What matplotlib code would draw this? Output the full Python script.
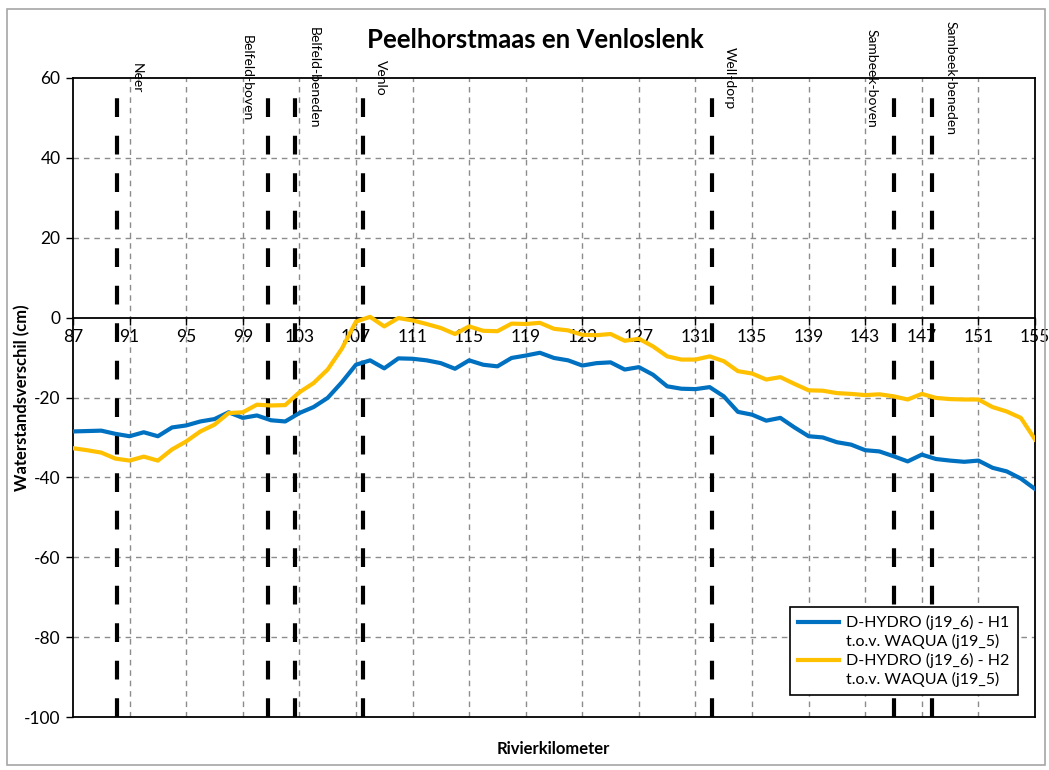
import matplotlib.pyplot as plt
from matplotlib.lines import Line2D
from matplotlib.patches import Rectangle

plt.rcParams["font.family"] = ["Lato", "DejaVu Sans"]
plt.rcParams["axes.unicode_minus"] = False

# rivierkilometer (1 km stappen)
km = list(range(87, 156))

h1_diff = [
    -28.5, -28.4, -28.3, -29.1, -29.7, -28.7, -29.7, -27.5, -27.0, -26.0,
    -25.4, -23.7, -25.1, -24.5, -25.7, -26.0, -23.9, -22.4, -20.1, -16.2,
    -11.8, -10.7, -12.7, -10.2, -10.3, -10.7, -11.4, -12.8, -10.7, -11.8,
    -12.2, -10.1, -9.5, -8.8, -10.1, -10.7, -12.0, -11.4, -11.2, -13.0,
    -12.4, -14.3, -17.2, -17.8, -17.9, -17.4, -19.7, -23.6, -24.3, -25.8,
    -25.1, -27.5, -29.7, -30.0, -31.2, -31.8, -33.2, -33.5, -34.7, -36.0,
    -34.3, -35.4, -35.8, -36.1, -35.8, -37.6, -38.5, -40.3, -42.9,
]
h2_diff = [
    -32.7, -33.2, -33.8, -35.3, -35.8, -34.8, -35.8, -33.0, -31.0, -28.5,
    -26.8, -23.9, -23.7, -21.8, -22.0, -21.9, -18.7, -16.4, -13.0, -7.8,
    -1.0, 0.2, -2.2, -0.1, -0.7, -1.6, -2.6, -4.1, -2.2, -3.3,
    -3.4, -1.5, -1.6, -1.3, -2.8, -3.2, -4.3, -4.4, -4.1, -5.8,
    -5.3, -7.2, -9.7, -10.5, -10.5, -9.7, -10.9, -13.4, -14.0, -15.5,
    -14.9, -16.6, -18.2, -18.3, -18.9, -19.1, -19.4, -19.2, -19.7, -20.5,
    -19.1, -20.1, -20.4, -20.5, -20.5, -22.4, -23.5, -25.1, -30.5,
]

series_labels = ["D-HYDRO (j19_6) - H1", "D-HYDRO (j19_6) - H2"]
reference_label = "t.o.v. WAQUA (j19_5)"

# locaties (stuwen / meetpunten) en positie van hun label
locations = ["Neer", "Belfeld-boven", "Belfeld-beneden", "Venlo", "Well-dorp",
             "Sambeek-boven", "Sambeek-beneden"]
location_km = [90.1, 100.75, 102.7, 107.5, 132.15, 145.0, 147.75]
location_label_km = [91.5, 99.3, 104.05, 108.75, 133.45, 143.45, 149.0]

x_ticks = list(range(87, 156, 4))
y_ticks = list(range(-100, 61, 20))

W, H = 1049, 770
fig = plt.figure(figsize=(W / 100, H / 100), dpi=100)
ax = fig.add_axes([73 / W, 1 - 717 / H, (1035 - 73) / W, (717 - 78) / H])

# achtergrondrand van de grafiek
fig.patches.append(Rectangle((7 / W, 5 / H), 1038 / W, 756 / H, transform=fig.transFigure,
                             fill=False, edgecolor="#a6a6a6", linewidth=1.2))

grid_kw = dict(color="#8c8c8c", linewidth=1.0, linestyle=(0, (4, 3.5)), zorder=1)
for x in x_ticks[1:-1]:
    ax.axvline(x, **grid_kw)
for y in y_ticks[1:-1]:
    if y != 0:
        ax.axhline(y, **grid_kw)

for x in location_km:
    ax.plot([x, x], [-100, 57.5], color="black", linewidth=3.0,
            linestyle=(0, (4.5, 4.5)), zorder=2)

line_h1, = ax.plot(km, h1_diff, color="#0070C0", linewidth=3.0, zorder=3)
line_h2, = ax.plot(km, h2_diff, color="#FFC000", linewidth=3.0, zorder=3)

for name, x in zip(locations, location_label_km):
    ax.text(x, 60, name, rotation=270, ha="center", va="center", fontsize=10,
            clip_on=False, zorder=5)

ax.set_xlim(87, 155)
ax.set_ylim(-100, 60)
ax.set_xticks(x_ticks)
ax.set_yticks(y_ticks)
ax.spines["bottom"].set_position(("data", 0))
for side in ["bottom", "top", "left", "right"]:
    ax.spines[side].set_linewidth(1.3)
ax.axhline(-100, color="black", linewidth=1.3, clip_on=False, zorder=4)
ax.tick_params(axis="x", direction="out", length=5, width=1.0, labelsize=12.5, pad=3)
ax.tick_params(axis="y", direction="out", length=5, width=1.0, labelsize=12.5, pad=4)

ax.set_ylabel("Waterstandsverschil (cm)", fontsize=12, fontweight="bold")
ax.yaxis.set_label_coords(-43 / 962, 0.5)
fig.text(553 / W, 1 - 749 / H, "Rivierkilometer", ha="center", va="center",
         fontsize=12, fontweight="bold")
fig.text(535 / W, 1 - 40 / H, "Peelhorstmaas en Venloslenk", ha="center", va="center",
         fontsize=18.5, fontweight="bold")

# legenda: lijnsymbool alleen bij de eerste regel van elk item
blank = Line2D([], [], linestyle="none")
handles = [line_h1, blank, line_h2, blank]
labels = [series_labels[0], reference_label, series_labels[1], reference_label]
leg = ax.legend(handles, labels, loc="lower right", bbox_to_anchor=(0.982, 0.034),
                borderaxespad=0, fontsize=11.5, frameon=True, fancybox=False,
                edgecolor="black", framealpha=1, handlelength=2.6, labelspacing=0.25,
                borderpad=0.5, handletextpad=0.45)
leg.get_frame().set_linewidth(1.2)

fig.savefig("out.png", dpi=100)
